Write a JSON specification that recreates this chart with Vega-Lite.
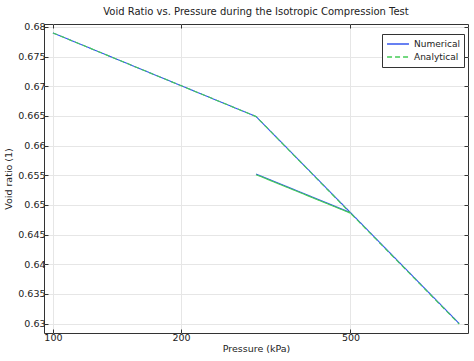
{
  "$schema": "https://vega.github.io/schema/vega-lite/v6.json",
  "width": 424,
  "height": 309,
  "autosize": {"type": "none"},
  "padding": {"left": 44, "top": 24, "right": 6, "bottom": 28},
  "background": "white",
  "title": {"text": "Void Ratio vs. Pressure during the Isotropic Compression Test", "fontSize": 10, "fontWeight": "normal", "font": "DejaVu Sans", "color": "#222", "offset": 5},
  "config": {
    "view": {"stroke": "#333", "strokeWidth": 1},
    "axis": {"labelFont": "DejaVu Sans", "titleFont": "DejaVu Sans", "labelFontSize": 9.5, "titleFontSize": 9.5, "titleFontWeight": "normal", "labelColor": "#222", "titleColor": "#222", "gridColor": "#e6e6e6", "tickColor": "#333", "domain": false, "tickSize": -4}
  },
  "data": {"values": [
    {"series": "Numerical", "step": 1, "p": 100, "e": 0.6790},
    {"series": "Numerical", "step": 2, "p": 300, "e": 0.6649},
    {"series": "Numerical", "step": 3, "p": 500, "e": 0.6487},
    {"series": "Numerical", "step": 4, "p": 300, "e": 0.6552},
    {"series": "Numerical", "step": 5, "p": 500, "e": 0.6487},
    {"series": "Numerical", "step": 6, "p": 900, "e": 0.6300},
    {"series": "Analytical", "step": 1, "p": 100, "e": 0.6790},
    {"series": "Analytical", "step": 2, "p": 300, "e": 0.6649},
    {"series": "Analytical", "step": 3, "p": 500, "e": 0.6486},
    {"series": "Analytical", "step": 4, "p": 300, "e": 0.6551},
    {"series": "Analytical", "step": 5, "p": 500, "e": 0.6486},
    {"series": "Analytical", "step": 6, "p": 900, "e": 0.6299}
  ]},
  "layer": [
    {
      "mark": {"type": "line", "strokeWidth": 1.1, "clip": true},
      "encoding": {
        "x": {"field": "p", "type": "quantitative", "scale": {"type": "log", "domain": [95.3, 944], "nice": false},
          "axis": {"values": [100, 200, 500], "title": "Pressure (kPa)", "titlePadding": 2, "labelPadding": 3, "format": "d"}},
        "y": {"field": "e", "type": "quantitative", "scale": {"domain": [0.6284, 0.6805], "nice": false, "zero": false},
          "axis": {"values": [0.63, 0.635, 0.64, 0.645, 0.65, 0.655, 0.66, 0.665, 0.67, 0.675, 0.68], "title": "Void ratio (1)", "titlePadding": 4, "labelPadding": 3, "labelExpr": "format(datum.value, '.3~f')"}},
        "order": {"field": "step", "type": "quantitative"},
        "color": {"field": "series", "type": "nominal", "scale": {"domain": ["Numerical", "Analytical"], "range": ["#3355ee", "#44cc55"]},
          "legend": {"title": null, "orient": "none", "legendX": 338, "legendY": 10, "strokeColor": "#333", "fillColor": "white", "padding": 4, "symbolType": "stroke", "symbolSize": 480, "symbolStrokeWidth": 1.4, "labelFont": "DejaVu Sans", "labelFontSize": 9, "labelColor": "#222", "rowPadding": 1, "labelOffset": 4, "clipHeight": 12}},
        "strokeDash": {"field": "series", "type": "nominal", "scale": {"domain": ["Numerical", "Analytical"], "range": [[1, 0], [5, 3]]},
          "legend": {"title": null, "orient": "none", "legendX": 338, "legendY": 10, "strokeColor": "#333", "fillColor": "white", "padding": 4, "symbolType": "stroke", "symbolSize": 480, "symbolStrokeWidth": 1.4, "labelFont": "DejaVu Sans", "labelFontSize": 9, "labelColor": "#222", "rowPadding": 1, "labelOffset": 4, "clipHeight": 12}}
      }
    },
    {
      "mark": {"type": "line", "opacity": 0, "clip": true},
      "encoding": {
        "x": {"field": "p", "type": "quantitative", "axis": {"orient": "top", "values": [100, 200, 500], "labels": false, "title": null, "grid": false}},
        "y": {"field": "e", "type": "quantitative", "axis": {"orient": "right", "values": [0.63, 0.635, 0.64, 0.645, 0.65, 0.655, 0.66, 0.665, 0.67, 0.675, 0.68], "labels": false, "title": null, "grid": false}},
        "detail": {"field": "series"}
      }
    }
  ],
  "resolve": {"axis": {"x": "independent", "y": "independent"}}
}
